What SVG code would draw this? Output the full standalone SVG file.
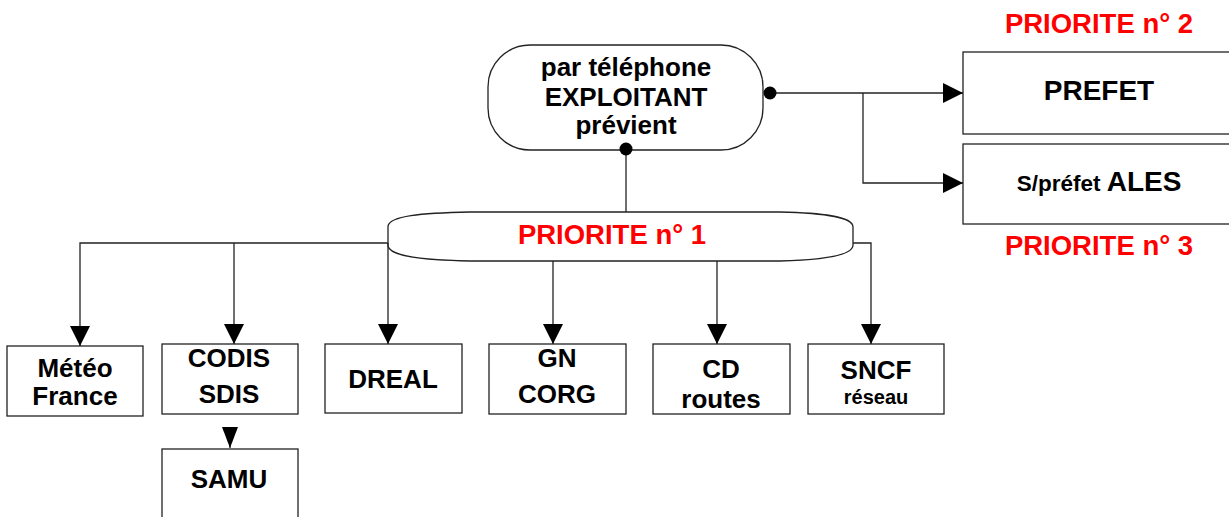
<svg xmlns="http://www.w3.org/2000/svg" width="1229" height="517" viewBox="0 0 1229 517">
<defs>
<style>
.box{fill:#fff;stroke:#222;stroke-width:1.3}
.ln{fill:none;stroke:#222;stroke-width:1.3}
.t{font-family:"Liberation Sans",Arial,sans-serif;font-weight:bold;fill:#000;text-anchor:middle;font-size:26px}
.r{fill:#ff0000;font-size:27.5px}
</style>
<marker id="arr" markerUnits="userSpaceOnUse" markerWidth="20" markerHeight="20" refX="20" refY="10" orient="auto" viewBox="0 0 20 20">
<path d="M0,0 L20,10 L0,20 Z" fill="#000"/>
</marker>
<marker id="arrS" markerUnits="userSpaceOnUse" markerWidth="21" markerHeight="16" refX="21" refY="8" orient="auto" viewBox="0 0 21 16">
<path d="M0,0 L21,8 L0,16 Z" fill="#000"/>
</marker>
</defs>
<rect width="1229" height="517" fill="#fff"/>

<g id="exploitant">
<rect class="box" x="488" y="45" width="275" height="105" rx="42" ry="42"/>
<text class="t" x="626" y="76">par téléphone</text>
<text class="t" x="626" y="106">EXPLOITANT</text>
<text class="t" x="626" y="134">prévient</text>
</g>

<g id="priorite1">
<path class="box" d="M470,212 L780,212 C820,213 853,216 853,227 L853,245 C853,256 820,260 780,261 L470,261 C420,260 390,256 388,246 L388,226 C390,216 420,213 470,212 Z"/>
<text class="t r" x="612" y="244">PRIORITE n° 1</text>
</g>

<g id="prefet">
<rect class="box" x="963" y="52" width="280" height="82"/>
<text class="t" x="1099" y="100" style="font-size:28px">PREFET</text>
<text class="t r" x="1099" y="33">PRIORITE n° 2</text>
</g>

<g id="sprefet">
<rect class="box" x="963" y="144" width="280" height="80"/>
<text class="t" x="1099" y="191"><tspan style="font-size:22.5px">S/préfet </tspan><tspan style="font-size:28px">ALES</tspan></text>
<text class="t r" x="1099" y="255">PRIORITE n° 3</text>
</g>

<g id="meteo">
<rect class="box" x="7" y="346" width="136" height="70"/>
<text class="t" x="75" y="377">Météo</text>
<text class="t" x="75" y="405">France</text>
</g>

<g id="codis">
<rect class="box" x="162" y="344" width="136" height="70"/>
<text class="t" x="229" y="367">CODIS</text>
<text class="t" x="229" y="403">SDIS</text>
</g>

<g id="samu">
<rect class="box" x="162" y="449" width="136" height="75"/>
<text class="t" x="229" y="488">SAMU</text>
</g>

<g id="dreal">
<rect class="box" x="325" y="344" width="137" height="69"/>
<text class="t" x="393" y="388">DREAL</text>
</g>

<g id="gn">
<rect class="box" x="489" y="344" width="137" height="70"/>
<text class="t" x="557" y="367">GN</text>
<text class="t" x="557" y="403">CORG</text>
</g>

<g id="cd">
<rect class="box" x="653" y="344" width="137" height="70"/>
<text class="t" x="721" y="378">CD</text>
<text class="t" x="721" y="408">routes</text>
</g>

<g id="sncf">
<rect class="box" x="808" y="344" width="136" height="70"/>
<text class="t" x="876" y="379">SNCF</text>
<text class="t" x="876" y="404" style="font-size:20px">réseau</text>
</g>

<g id="connectors">
<path class="ln" d="M626,149 V212"/>
<path class="ln" d="M770,93 H963" marker-end="url(#arr)"/>
<path class="ln" d="M863,93 V183 H963" marker-end="url(#arr)"/>
<path class="ln" d="M388,243 H80 V346" marker-end="url(#arr)"/>
<path class="ln" d="M234,243 V344" marker-end="url(#arr)"/>
<path class="ln" d="M388,243 V344" marker-end="url(#arr)"/>
<path class="ln" d="M553,261 V344" marker-end="url(#arr)"/>
<path class="ln" d="M717,261 V344" marker-end="url(#arr)"/>
<path class="ln" d="M853,243 H871 V344" marker-end="url(#arr)"/>
<path class="ln" d="M230,429 V448" stroke-width="0" marker-end="url(#arrS)"/>
<circle cx="770" cy="93" r="6.5" fill="#000"/>
<circle cx="626" cy="149" r="6.5" fill="#000"/>
</g>
</svg>
